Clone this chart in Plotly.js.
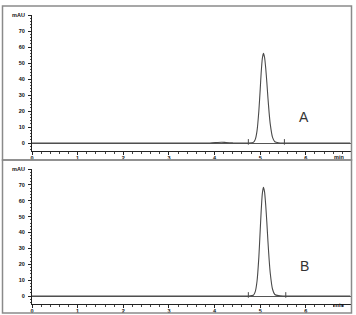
<!DOCTYPE html>
<html>
<head>
<meta charset="utf-8">
<script src="https://cdn.plot.ly/plotly-3.0.1.min.js"></script>
<style>html,body{margin:0;padding:0;background:#fff;}#chart{width:356px;height:315px;}</style>
</head>
<body>
<div id="chart"></div>
<script>
// Retention time (min)
const timeMin = [0, 1, 2, 3, 3.9, 4.05, 4.15, 4.25, 4.4, 4.6, 4.75, 4.85, 4.89, 4.93, 4.97, 5.00, 5.02, 5.045, 5.07, 5.095, 5.12, 5.145, 5.17, 5.195, 5.22, 5.27, 5.32, 5.4, 5.5, 6.0, 6.97];
// Chromatogram A (mAU)
const signalA = [0, 0, 0, 0, 0, 0.3, 0.5, 0.3, 0.1, 0, 0, 0.4, 2.1, 7.6, 20, 33.5, 43.4, 52.5, 56, 53.6, 47, 38, 28, 19, 11.8, 3.5, 0.8, 0.2, 0, 0, 0];
// Chromatogram B (mAU)
const signalB = [0, 0, 0, 0, 0, 0, 0, 0, 0, 0, 0, 0.5, 2.6, 9.3, 24.5, 41.5, 53, 64.2, 68.5, 65.6, 57.5, 46.5, 34.2, 23.2, 14.4, 4.3, 1.0, 0.25, 0, 0, 0];
// Integration markers (min)
const marksA = [4.74, 5.53];
const marksB = [4.74, 5.56];
const panelLabels = ["A", "B"];
const yTickVals = [0, 10, 20, 30, 40, 50, 60, 70, 80];
const yTickText = ["0", "10", "20", "30", "40", "50", "60", "70", "mAU"];
const xTickVals = [0, 1, 2, 3, 4, 5, 6];

const W = 356, H = 315;
const px = v => v / W;
const py = v => 1 - v / H;

const traceColor = '#4a4a4a';
const traces = [
  {x: timeMin, y: signalA, xaxis: 'x', yaxis: 'y', mode: 'lines', line: {color: traceColor, width: 1.1, shape: 'spline', smoothing: 0.5}, hoverinfo: 'skip'},
  {x: marksA, y: marksA.map(() => 0.7), xaxis: 'x', yaxis: 'y', mode: 'markers', marker: {symbol: 'line-ns', size: 4, line: {color: traceColor, width: 1}}, hoverinfo: 'skip'},
  {x: timeMin, y: signalB, xaxis: 'x2', yaxis: 'y2', mode: 'lines', line: {color: traceColor, width: 1.1, shape: 'spline', smoothing: 0.5}, hoverinfo: 'skip'},
  {x: marksB, y: marksB.map(() => 0.7), xaxis: 'x2', yaxis: 'y2', mode: 'markers', marker: {symbol: 'line-ns', size: 4, line: {color: traceColor, width: 1}}, hoverinfo: 'skip'}
];

const tickFont = {family: 'Liberation Sans, Arial, sans-serif', size: 5.5, color: '#111', weight: 'bold'};
function xAxis(anchor) {
  return {
    domain: [px(32), px(351.5)], anchor: anchor, range: [0, 7],
    tickmode: 'array', tickvals: xTickVals, ticks: 'outside', ticklen: 3, tickwidth: 1, tickcolor: '#222',
    minor: {dtick: 0.2, ticks: 'outside', ticklen: 1.5, tickcolor: '#444', showgrid: false},
    showline: true, linecolor: '#222', linewidth: 1, showgrid: false, zeroline: false,
    tickfont: tickFont, ticklabelstandoff: -2, fixedrange: true
  };
}
function yAxis(anchor, top, bottom) {
  return {
    domain: [py(bottom), py(top)], anchor: anchor, range: [-5, 80],
    tickmode: 'array', tickvals: yTickVals, ticktext: yTickText, ticks: 'outside', ticklen: 3, tickwidth: 1, tickcolor: '#222',
    minor: {dtick: 2, ticks: 'outside', ticklen: 1.5, tickcolor: '#444', showgrid: false},
    showline: true, linecolor: '#222', linewidth: 1, showgrid: false, zeroline: true, zerolinecolor: '#555', zerolinewidth: 1,
    tickfont: tickFont, ticklabelstandoff: 2, fixedrange: true
  };
}

const layout = {
  width: W, height: H, margin: {l: 0, r: 0, t: 0, b: 0},
  paper_bgcolor: '#fff', plot_bgcolor: '#fff', showlegend: false,
  xaxis: xAxis('y'), yaxis: yAxis('x', 15, 151),
  xaxis2: xAxis('y2'), yaxis2: yAxis('x2', 169, 304),
  shapes: [
    {type: 'rect', xref: 'paper', yref: 'paper', x0: px(2.5), x1: px(351.5), y0: py(160), y1: py(6), line: {color: '#8a8a8a', width: 1.5}},
    {type: 'rect', xref: 'paper', yref: 'paper', x0: px(2.5), x1: px(351.5), y0: py(313), y1: py(160), line: {color: '#8a8a8a', width: 1.5}}
  ],
  annotations: [
    {xref: 'paper', yref: 'paper', x: px(311), y: py(117), text: panelLabels[0], showarrow: false, font: {family: 'Liberation Sans, Arial, sans-serif', size: 14, color: '#333'}},
    {xref: 'paper', yref: 'paper', x: px(311), y: py(276), text: panelLabels[1], showarrow: false, font: {family: 'Liberation Sans, Arial, sans-serif', size: 14, color: '#333'}},
    {xref: 'paper', yref: 'paper', x: px(346), y: py(157), text: 'min', showarrow: false, font: tickFont},
    {xref: 'paper', yref: 'paper', x: px(346), y: py(310), text: 'min', showarrow: false, font: tickFont}
  ]
};

Plotly.newPlot('chart', traces, layout, {displayModeBar: false, staticPlot: true});
</script>
</body>
</html>
